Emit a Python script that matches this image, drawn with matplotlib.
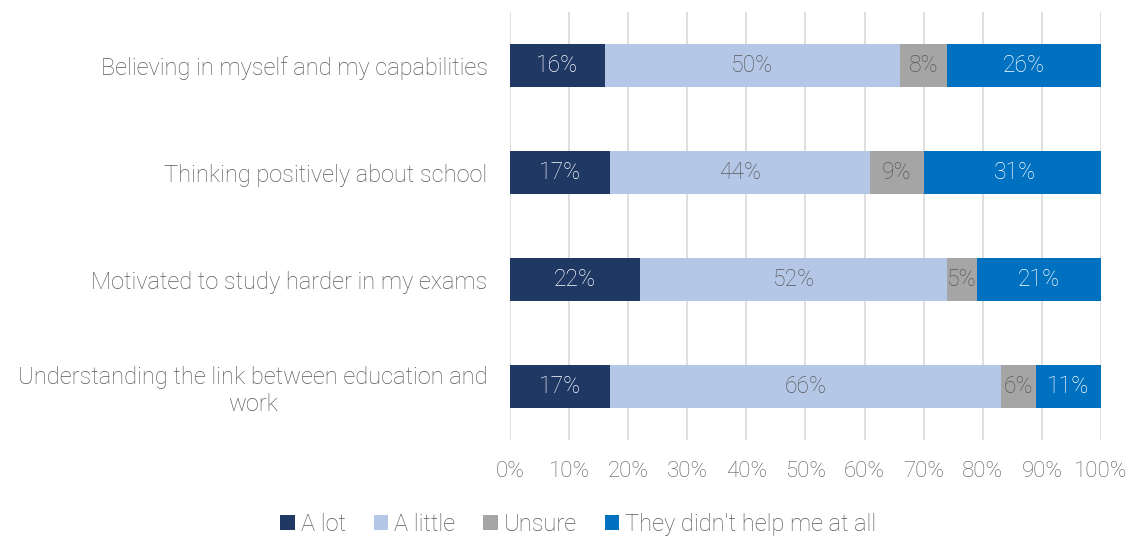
import matplotlib
matplotlib.use("Agg")
import matplotlib.pyplot as plt
from matplotlib.patches import Patch

categories = [
    "Believing in myself and my capabilities",
    "Thinking positively about school",
    "Motivated to study harder in my exams",
    "Understanding the link between education and\nwork",
]
series_names = ["A lot", "A little", "Unsure", "They didn't help me at all"]
a_lot = [16, 17, 22, 17]
a_little = [50, 44, 52, 66]
unsure = [8, 9, 5, 6]
not_at_all = [26, 31, 21, 11]

colors = ["#203864", "#B4C7E7", "#A5A5A5", "#0070C0"]
label_colors = ["white", "#595959", "#595959", "white"]
text_grey = "#595959"
font = "Roboto"

fig = plt.figure(figsize=(11.34, 5.37), dpi=100)
ax = fig.add_axes([0.4497, 0.1806, 0.5212, 0.797])

ys = list(range(len(categories)))
left = [0] * len(categories)
for vals, c, lc in zip([a_lot, a_little, unsure, not_at_all], colors, label_colors):
    bars = ax.barh(ys, vals, left=left, height=0.4, color=c, zorder=3)
    for b, v in zip(bars, vals):
        ax.text(b.get_x() + b.get_width() / 2, b.get_y() + b.get_height() / 2,
                f"{v}%", ha="center", va="center", color=lc,
                fontsize=16.5, family=font, fontweight="light", zorder=4)
    left = [l + v for l, v in zip(left, vals)]

ax.set_xlim(0, 100)
ax.set_ylim(len(categories) - 0.5, -0.5)
ax.set_xticks(range(0, 101, 10))
ax.set_xticklabels([f"{t}%" for t in range(0, 101, 10)])
ax.set_yticks(ys)
ax.set_yticklabels(categories, multialignment="center")
for lab in ax.get_xticklabels():
    lab.set_family(font)
    lab.set_fontweight("light")
    lab.set_fontsize(16)
    lab.set_color(text_grey)
for lab in ax.get_yticklabels():
    lab.set_family(font)
    lab.set_fontweight("light")
    lab.set_fontsize(17)
    lab.set_color(text_grey)
ax.tick_params(axis="both", length=0)
ax.tick_params(axis="x", pad=15)
ax.tick_params(axis="y", pad=16)
ax.grid(axis="x", color="#D9D9D9", linewidth=1.2, zorder=0)
for s in ax.spines.values():
    s.set_visible(False)

handles = [Patch(facecolor=c, label=n) for c, n in zip(colors, series_names)]
leg = fig.legend(handles=handles, loc="center", bbox_to_anchor=(0.51, 0.024),
                 ncol=4, frameon=False, handlelength=0.6, handleheight=0.6,
                 handletextpad=0.25, columnspacing=1.2,
                 prop={"family": font, "weight": "light", "size": 17})
for t in leg.get_texts():
    t.set_color(text_grey)

fig.savefig("out.png", dpi=100)
